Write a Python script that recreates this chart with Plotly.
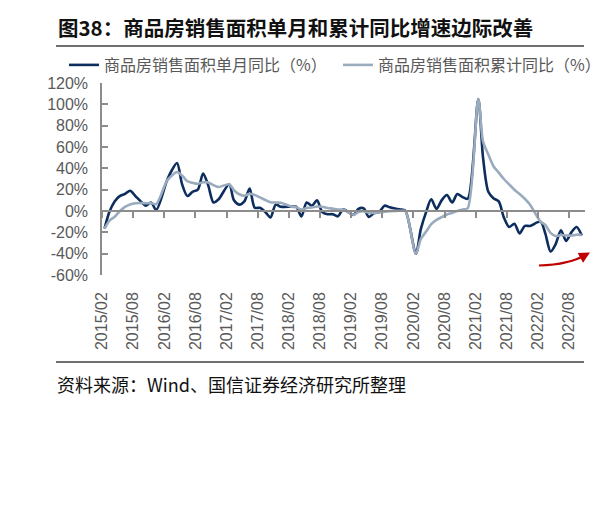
import plotly.graph_objects as go
import pandas as pd

# ---- data ----
# monthly points Feb..Dec each year (January not published), 2015/02 .. 2022/10
single_month = [
    -16.5, -1, 9, 14, 16, 19, 14, 9, 5, 8, 1,            # 2015
    28.2, 38, 45, 25, 14, 18, 20, 35, 24, 8, 11,         # 2016
    25.1, 10, 6, 9, 21, 3, 3, -1, -6, 6, 4,              # 2017
    4.1, 4, -5, 8, 5, 10, -1, -3, -3, -5, 1.5,           # 2018
    -3.6, 2, 2.5, -5.5, -2, -1, 5, 3.5, 2.3, 1.5, 0.3,   # 2019
    -39.9, -17, -1, 11, 2, 10, 15, 8, 16, 13, 11.5,      # 2020
    104.9, 50, 18, 12, 9, -6, -15, -12, -21, -14, -14,   # 2021
    -10, -21, -38, -31, -18, -28, -20, -15, -23,         # 2022
]
cumulative = [
    -16.5, -9.2, -5.4, -0.2, 3.9, 6.1, 7.2, 7.5, 7.2, 7.4, 6.5,        # 2015
    28.2, 33.1, 36.5, 33.2, 27.9, 26.4, 25.5, 26.9, 26.8, 24.3, 22.5,  # 2016
    25.1, 19.5, 15.7, 14.3, 16.1, 15.0, 12.7, 10.3, 8.2, 7.9, 7.7,     # 2017
    4.1, 3.6, 1.3, 2.9, 3.3, 4.2, 4.0, 2.9, 2.2, 1.4, 1.3,             # 2018
    -3.6, -0.9, -0.3, -1.6, -1.8, -1.3, -0.6, -0.1, 0.1, 0.2, -0.1,    # 2019
    -39.9, -26.3, -19.3, -12.3, -8.4, -5.8, -3.3, -1.8, 0.0, 1.3, 2.6, # 2020
    104.9, 65, 53, 42, 36, 30, 25, 20, 16, 11.5, 6,                    # 2021
    -10, -13, -20.5, -23.5, -22.5, -23, -23, -22.2, -22.5,             # 2022
]
all_months = pd.date_range("2015-02-01", "2022-10-01", freq="MS")
dates = [d + pd.Timedelta(days=14) for d in all_months if d.month != 1]

tick_labels = ["2015/02", "2015/08", "2016/02", "2016/08", "2017/02", "2017/08",
               "2018/02", "2018/08", "2019/02", "2019/08", "2020/02", "2020/08",
               "2021/02", "2021/08", "2022/02", "2022/08"]
tick_dates = [l.replace("/", "-") + "-01" for l in tick_labels]
y_ticks = [-60, -40, -20, 0, 20, 40, 60, 80, 100, 120]
y_labels = [f"{v}%" for v in y_ticks]

series_names = ["商品房销售面积单月同比（%）", "商品房销售面积累计同比（%）"]
title_text = "图38：商品房销售面积单月和累计同比增速边际改善"
source_text = "资料来源：Wind、国信证券经济研究所整理"

# ---- figure ----
OFF = 8                      # page body margin of the html page
W, H = 614 - OFF, 521 - OFF
L, R, T, B = 102 - OFF, 29, 83 - OFF, 246
pw, ph = W - L - R, H - T - B


def px_x(px):               # page pixel -> paper fraction
    return (px - OFF - L) / pw


def px_y(py):
    return (H - B - (py - OFF)) / ph


x_range = ["2015-01-31", "2022-11-03"]
cjk = "Noto Sans CJK SC"
num_font = "Liberation Sans"
gray_txt = "#595959"
axis_col = "#8c8c8c"

fig = go.Figure()
fig.add_trace(go.Scatter(
    x=dates, y=single_month, name=series_names[0], mode="lines",
    line=dict(color="#0d2d5e", width=2.6, shape="spline", smoothing=0.8),
    xaxis="x", yaxis="y", hoverinfo="skip"))
fig.add_trace(go.Scatter(
    x=dates, y=cumulative, name=series_names[1], mode="lines",
    line=dict(color="#9aabbd", width=2.6, shape="spline", smoothing=0.8),
    xaxis="x2", yaxis="y", hoverinfo="skip"))

zero_pos = (0 - y_ticks[0]) / (y_ticks[-1] - y_ticks[0])

fig.update_layout(
    width=W, height=H,
    margin=dict(l=L, r=R, t=T, b=B, autoexpand=False),
    paper_bgcolor="white", plot_bgcolor="white",
    showlegend=True,
    legend=dict(orientation="h", x=px_x(64), y=px_y(65), xanchor="left", yanchor="middle",
                font=dict(family=cjk, size=16, color=gray_txt),
                entrywidth=229, entrywidthmode="pixels",
                bgcolor="rgba(0,0,0,0)", borderwidth=0),
    xaxis=dict(type="date", range=x_range, anchor="free", position=zero_pos,
               showline=True, linecolor=axis_col, linewidth=1.5,
               ticks="outside", ticklen=6, tickcolor=axis_col, tickwidth=1.5,
               tickvals=tick_dates, showticklabels=False, showgrid=False, zeroline=False),
    xaxis2=dict(type="date", range=x_range, overlaying="x", anchor="y", side="bottom",
                showline=False, ticks="", tickvals=tick_dates, ticktext=tick_labels,
                tickangle=-90, ticklabelstandoff=13,
                tickfont=dict(family=num_font, size=16, color=gray_txt),
                showgrid=False, zeroline=False),
    yaxis=dict(range=[y_ticks[0], y_ticks[-1]], tickvals=y_ticks, ticktext=y_labels,
               showline=True, linecolor=axis_col, linewidth=1.5,
               ticks="inside", ticklen=6, tickcolor=axis_col, tickwidth=1.5,
               ticklabelstandoff=9,
               tickfont=dict(family=num_font, size=16, color=gray_txt),
               showgrid=False, zeroline=False),
)

# title, rules and source
fig.add_annotation(xref="paper", yref="paper", x=px_x(56), y=px_y(27), xanchor="left", yanchor="middle",
                   text=title_text, showarrow=False,
                   font=dict(family=cjk, size=20.5, color="#111111", weight="bold"))
for py in (46, 362):
    fig.add_shape(type="line", xref="paper", yref="paper",
                  x0=px_x(56), x1=px_x(584), y0=px_y(py), y1=px_y(py),
                  line=dict(color="#404040", width=1.5))
fig.add_annotation(xref="paper", yref="paper", x=px_x(55), y=px_y(384), xanchor="left", yanchor="middle",
                   text=source_text, showarrow=False,
                   font=dict(family=cjk, size=18, color="#111111"))

# red arrow (marginal improvement)
fig.add_shape(type="path", xref="paper", yref="paper",
              path=f"M {px_x(539)},{px_y(265.5)} Q {px_x(570)},{px_y(264.5)} {px_x(586)},{px_y(254.5)}",
              line=dict(color="#c00000", width=2.2))
fig.add_annotation(xref="paper", yref="paper", x=px_x(590), y=px_y(252.5), ax=-9, ay=5,
                   axref="pixel", ayref="pixel", text="", showarrow=True,
                   arrowhead=2, arrowsize=1, arrowwidth=2.2, arrowcolor="#c00000")

fig.write_html("out.html")
